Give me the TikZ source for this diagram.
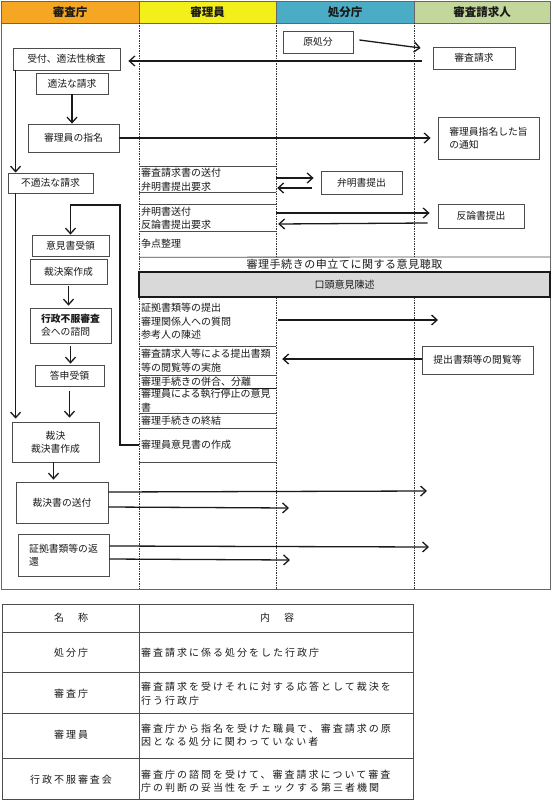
\documentclass[tikz,border=0pt]{standalone}
\usepackage{fontspec}
\setmainfont{Noto Sans CJK JP}
\newfontfamily\jpsp{Noto Sans CJK JP}[LetterSpace=20]
\newfontfamily\jpti{Noto Sans CJK JP}[LetterSpace=5]
\usetikzlibrary{arrows.meta,calc}
\definecolor{hOrange}{HTML}{F5A623}
\definecolor{hYellow}{HTML}{F3EF1A}
\definecolor{hBlue}{HTML}{4BACC6}
\definecolor{hGreen}{HTML}{C3D69B}
\definecolor{kGray}{HTML}{D9D9D9}
\definecolor{ink}{HTML}{1A1A1A}
\begin{document}
\begin{tikzpicture}[x=1pt,y=-1pt,
  every node/.style={text=ink},
  box/.style={draw=black!70, line width=0.8pt, inner sep=0pt, align=center, font=\fontsize{9.8}{13}\selectfont},
  lbox/.style={box, align=left},
  cell/.style={inner xsep=2pt, inner ysep=0pt, text width=133pt, align=left, font=\fontsize{10}{13.5}\selectfont},
  hdr/.style={draw=black!60, line width=0.6pt, inner sep=0pt, minimum height=22pt, font=\fontsize{11.5}{13}\selectfont\bfseries},
  arr/.style={draw=ink, line width=1.3pt, -{Straight Barb[length=5.5pt,width=10pt]}},
  col/.style={draw=black!80, line width=0.6pt, dash pattern=on 1.5pt off 1pt},
  sep/.style={draw=black!70, line width=0.8pt},
  tcl/.style={font=\jpsp\fontsize{10}{13.5}\selectfont, inner sep=0pt, align=center},
  tcr/.style={font=\jpsp\fontsize{10}{13.5}\selectfont, anchor=west, inner xsep=2pt, inner ysep=0pt, text width=268pt, align=left},
]
\useasboundingbox (0,0) rectangle (552,800);
\fill[white] (0,0) rectangle (552,800);

% header
\node[hdr, fill=hOrange, minimum width=138pt] (h1) at (70,12) {審査庁};
\node[hdr, fill=hYellow, minimum width=137pt] (h2) at (207.5,12) {審理員};
\node[hdr, fill=hBlue, minimum width=138pt] (h3) at (345,12) {処分庁};
\node[hdr, fill=hGreen, minimum width=136pt] (h4) at (482,12) {審査請求人};

% column lines
\draw[col] (139,23) -- (139,589);
\draw[col] (276,23) -- (276,257);
\draw[col] (276,297) -- (276,589);
\draw[col] (414,23) -- (414,257);
\draw[col] (414,297) -- (414,589);
\draw[draw=black!60, line width=0.8pt] (1,1) rectangle (550,589);

% left column boxes
\node[box, minimum width=107pt, minimum height=22pt] (uke) at (66.5,59) {受付、適法性検査};
\node[box, minimum width=72pt, minimum height=21pt] (teki) at (72,83.5) {適法な請求};
\node[box, minimum width=91pt, minimum height=28pt] (shimei) at (73.5,138) {審理員の指名};
\node[box, minimum width=85pt, minimum height=20pt] (futeki) at (50.5,183) {不適法な請求};
\node[box, minimum width=77pt, minimum height=21pt] (ikensho) at (70.5,245.5) {意見書受領};
\node[box, minimum width=77pt, minimum height=25pt] (saian) at (68.5,271.5) {裁決案作成};
\node[lbox, minimum width=81pt, minimum height=35pt] (shimon) at (70.5,325.5) {{\bfseries 行政不服審査}\\会への諮問};
\node[box, minimum width=69pt, minimum height=21pt] (toshin) at (69.5,375.5) {答申受領};
\node[box, minimum width=87pt, minimum height=40pt] (saiketsu) at (55.5,442) {裁決\\裁決書作成};
\node[box, minimum width=92pt, minimum height=41pt] (sofu) at (62,502.5) {裁決書の送付};
\node[lbox, minimum width=91pt, minimum height=42pt] (henkan) at (63.5,555) {証拠書類等の返\\還};

% right boxes
\node[box, minimum width=70pt, minimum height=22pt] (gen) at (318,42) {原処分};
\node[box, minimum width=82pt, minimum height=22pt] (sq) at (474,58) {審査請求};
\node[lbox, minimum width=101pt, minimum height=42pt] (tsuchi) at (488.5,138) {審理員指名した旨\\の通知};
\node[box, minimum width=81pt, minimum height=23pt] (benmei) at (361.5,182.5) {弁明書提出};
\node[box, minimum width=86pt, minimum height=24pt] (hanron) at (481,216) {反論書提出};
\node[box, minimum width=111pt, minimum height=28pt] (etsuran) at (477.5,360) {提出書類等の閲覧等};

% middle column cells
\node[cell, minimum height=25pt] (cA) at (207.5,179.5) {審査請求書の送付\\弁明書提出要求};
\node[cell, minimum height=26pt] (cB) at (207.5,218) {弁明書送付\\反論書提出要求};
\node[cell, minimum height=26pt] (cS) at (207.5,244) {争点整理};
\node[font=\jpti\fontsize{11}{13}\selectfont, inner sep=0pt] (title) at (344.5,264.5) {審理手続きの申立てに関する意見聴取};
\node[draw=ink, line width=1.2pt, fill=kGray, minimum width=411pt, minimum height=25pt, inner sep=0pt, font=\fontsize{10}{12}\selectfont] (kotou) at (344.5,284.5) {口頭意見陳述};
\node[cell, minimum height=49pt] (cC1) at (207.5,321.5) {証拠書類等の提出\\審理関係人への質問\\参考人の陳述};
\node[cell, minimum height=29pt] (cC2) at (207.5,360.5) {審査請求人等による提出書類\\等の閲覧等の実施};
\node[cell, minimum height=13pt] (cC3) at (207.5,381.5) {審理手続きの併合、分離};
\node[cell, minimum height=25pt] (cC4) at (207.5,400.5) {審理員による執行停止の意見\\書};
\node[cell, minimum height=15pt] (cC5) at (207.5,420.5) {審理手続きの終結};
\node[cell, minimum height=34pt] (cC6) at (207.5,445) {審理員意見書の作成};

\draw[sep] (cA.north west) -- (cA.north east);
\draw[sep] (cA.south west) -- (cA.south east);
\draw[sep] (cB.north west) -- (cB.north east);
\draw[sep] (cB.south west) -- (cB.south east);
\draw[sep] (cS.south west) -- (550,257);
\draw[sep] (cC1.south west) -- (cC1.south east);
\draw[sep] (cC2.south west) -- (cC2.south east);
\draw[draw=ink, line width=1.2pt] (cC3.south west) -- (cC3.south east);
\draw[sep] (cC4.south west) -- (cC4.south east);
\draw[sep] (cC5.south west) -- (cC5.south east);
\draw[sep] (cC6.south west) -- (cC6.south east);

% left column flow
\draw[arr] ([xshift=3pt]uke.south west) -- ([xshift=8pt]futeki.north west);
\draw[arr] ([xshift=8pt]futeki.south west) -- ([xshift=4pt,yshift=3pt]saiketsu.north west);
\draw[arr] (teki.south) -- (teki.south |- shimei.north);
\draw[arr] ([yshift=-2pt]saian.south) -- ([yshift=2pt]saian.south |- shimon.north);
\draw[arr] ([yshift=-3pt]shimon.south) -- ([yshift=1pt]shimon.south |- toshin.north);
\draw[arr] ([yshift=-5pt]toshin.south) -- ([yshift=4pt]toshin.south |- saiketsu.north);
\draw[arr] ([xshift=-2pt]saiketsu.south) -- ([xshift=-2pt,yshift=2pt]saiketsu.south |- sofu.north);
\coordinate (lp) at (120,205);
\draw[arr] (cC6.west) -- (cC6.west -| lp) -- (lp) -| (ikensho.north);

% cross-lane arrows
\draw[arr] ([xshift=6pt,yshift=2pt]gen.east) -- ([xshift=-12pt,yshift=10pt]sq.west);
\draw[arr] ([xshift=-11pt,yshift=-3pt]sq.west) -- ([xshift=8pt,yshift=-2pt]uke.east);
\draw[arr] (shimei.east) -- ([xshift=-7pt]tsuchi.west);
\draw[arr] ([yshift=1.5pt]cA.east) -- ([xshift=-7pt,yshift=4.5pt]benmei.west);
\draw[arr] ([xshift=-9pt,yshift=-5.5pt]benmei.west) -- ([xshift=1pt,yshift=-8.5pt]cA.east);
\draw[arr] ([yshift=5pt]cB.east) -- ([xshift=-8pt,yshift=3pt]hanron.west);
\draw[arr] ([xshift=-10pt,yshift=-7pt]hanron.west) -- ([xshift=2pt,yshift=-6pt]cB.east);
\coordinate (c1end) at (438,320);
\draw[arr] ([xshift=2pt,yshift=1.5pt]cC1.east) -- (c1end);
\draw[arr] ([yshift=1pt]etsuran.west) -- ([xshift=6pt,yshift=1.5pt]cC2.east);
\coordinate (s1) at (427,491);
\coordinate (s2) at (289,508);
\coordinate (r1) at (429,547);
\coordinate (r2) at (290,560);
\draw[arr] ([yshift=10.5pt]sofu.east) -- (s1);
\draw[arr] ([yshift=-4.5pt]sofu.east) -- (s2);
\draw[arr] ([yshift=9pt]henkan.east) -- (r1);
\draw[arr] ([yshift=-4pt]henkan.east) -- (r2);

% glossary table
\draw[draw=black!70, line width=0.8pt] (2,604) rectangle (413,799);
\draw[sep] (2,632) -- (413,632);
\draw[sep] (2,672) -- (413,672);
\draw[sep] (2,713) -- (413,713);
\draw[sep] (2,758) -- (413,758);
\draw[sep] (139,604) -- (139,799);
\node[tcl] (tn0) at (71,618) {名　称};
\node[tcl] (tc0) at (277,618) {内　容};
\node[tcl] (tn1) at (71,653) {処分庁};
\node[tcr] (tc1) at (139,653) {審査請求に係る処分をした行政庁};
\node[tcl] (tn2) at (71,693.5) {審査庁};
\node[tcr] (tc2) at (139,693.5) {審査請求を受けそれに対する応答として裁決を\\行う行政庁};
\node[tcl] (tn3) at (71,735) {審理員};
\node[tcr] (tc3) at (139,735) {審査庁から指名を受けた職員で、審査請求の原\\因となる処分に関わっていない者};
\node[tcl] (tn4) at (71,780) {行政不服審査会};
\node[tcr] (tc4) at (139,781) {審査庁の諮問を受けて、審査請求について審査\\庁の判断の妥当性をチェックする第三者機関};
\end{tikzpicture}
\end{document}
